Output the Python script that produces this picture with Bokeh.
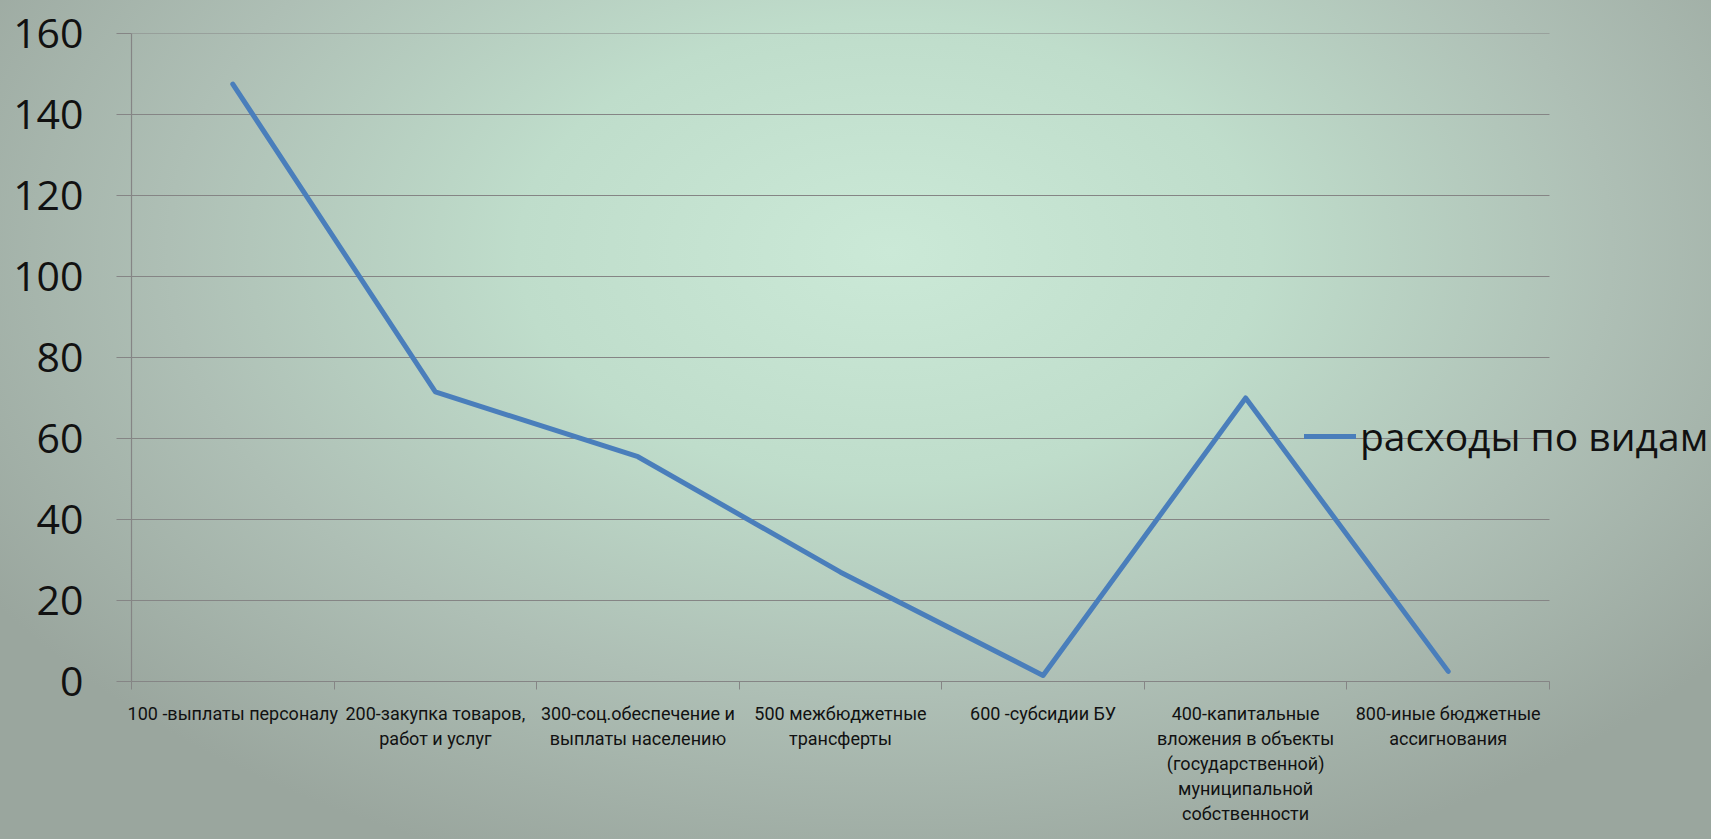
import numpy as np
from bokeh.plotting import figure
from bokeh.models import (Range1d, LinearAxis, FixedTicker,
                          Legend, LegendItem, GlobalInlineStyleSheet, ColumnDataSource)
from bokeh.embed import file_html
from bokeh.resources import INLINE

categories = [
    "100 -выплаты персоналу",
    "200-закупка товаров,\nработ и услуг",
    "300-соц.обеспечение и\nвыплаты населению",
    "500 межбюджетные\nтрансферты",
    "600 -субсидии БУ",
    "400-капитальные\nвложения в объекты\n(государственной)\nмуниципальной\nсобственности",
    "800-иные бюджетные\nассигнования",
]
values = [147.5, 71.5, 55.5, 27, 1.5, 70, 2.5]
series_name = "расходы по видам"
y_ticks = [0, 20, 40, 60, 80, 100, 120, 140, 160]

GRID = "#858585"
BLUE = "#4a7ebb"

n = len(categories)
centers = (np.arange(n) + 0.5).tolist()

W, H = 1711, 839
LEFT, TOP, BOTTOM = 131, 33, 158
DATA_W = 1418                      # width of the category area in px
FRAME_W = W - LEFT                 # frame runs to the right edge so the legend is not clipped
x_end = n * FRAME_W / DATA_W

p = figure(width=W, height=H, x_range=Range1d(0, x_end),
           y_range=Range1d(0, 160), x_axis_type=None, y_axis_type=None,
           output_backend="svg", toolbar_location=None,
           min_border_left=LEFT, min_border_top=TOP, min_border_bottom=BOTTOM, min_border_right=0)
p.background_fill_alpha = 0
p.border_fill_alpha = 0
p.outline_line_color = None

p.stylesheets = [GlobalInlineStyleSheet(css="""
html, body { margin: 0; padding: 0; overflow: hidden;
  background: radial-gradient(ellipse 62% 78% at 52% 30%, #cbe9d7 0%, #bfddcb 35%, #aebfb5 68%, #9aa69e 100%); }
""")]

# horizontal gridlines limited to the category area
p.xgrid.grid_line_color = None
p.ygrid.grid_line_color = None
grid_src = ColumnDataSource(dict(x0=[0] * len(y_ticks), x1=[n] * len(y_ticks), y=y_ticks))
p.segment("x0", "y", "x1", "y", source=grid_src, line_color=GRID, line_width=1.2)

# x axis line + ticks on category boundaries
tick_axis = LinearAxis(ticker=FixedTicker(ticks=list(range(n + 1))), bounds=(0, n),
                       major_label_overrides={i: "" for i in range(n + 1)})
tick_axis.axis_line_color = GRID
tick_axis.axis_line_width = 1.2
tick_axis.major_tick_line_color = GRID
tick_axis.major_tick_out = 8
tick_axis.major_tick_in = 0
tick_axis.minor_tick_line_color = None
tick_axis.major_label_text_font_size = "1px"
tick_axis.major_label_standoff = 0
p.add_layout(tick_axis, "below")

# category labels at category centres
cat_axis = LinearAxis(ticker=FixedTicker(ticks=centers),
                      major_label_overrides={c: lab for c, lab in zip(centers, categories)})
cat_axis.axis_line_color = None
cat_axis.major_tick_line_color = None
cat_axis.minor_tick_line_color = None
cat_axis.major_label_text_font = "Roboto"
cat_axis.major_label_text_font_size = "18px"
cat_axis.major_label_text_color = "#111111"
cat_axis.major_label_standoff = 7
p.add_layout(cat_axis, "below")

yaxis = LinearAxis(ticker=FixedTicker(ticks=y_ticks))
yaxis.axis_line_color = GRID
yaxis.axis_line_width = 1.2
yaxis.major_tick_line_color = GRID
yaxis.major_tick_out = 15
yaxis.major_tick_in = 0
yaxis.minor_tick_line_color = None
yaxis.major_label_text_font = "Open Sans"
yaxis.major_label_text_font_size = "41px"
yaxis.major_label_text_color = "#111111"
yaxis.major_label_standoff = 33
p.add_layout(yaxis, "left")

src = ColumnDataSource(dict(x=centers, y=values, cat=categories))
r = p.line("x", "y", source=src, line_color=BLUE, line_width=5, line_join="round", line_cap="round")

legend = Legend(items=[LegendItem(label=series_name, renderers=[r])], location=(1173, 219))
legend.background_fill_alpha = 0
legend.border_line_color = None
legend.padding = 0
legend.margin = 0
legend.spacing = 0
legend.glyph_width = 52
legend.glyph_height = 40
legend.label_standoff = 4
legend.label_text_font = "Open Sans"
legend.label_text_font_size = "39px"
legend.label_text_color = "#111111"
p.add_layout(legend, "center")

open("out.html", "w").write(file_html(p, INLINE))
